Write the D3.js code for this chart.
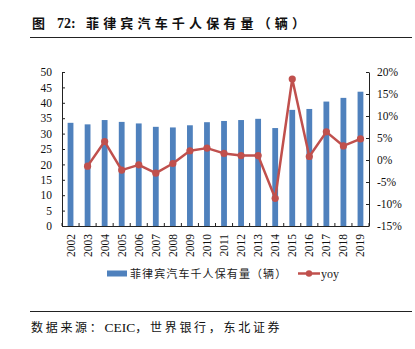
<!DOCTYPE html>
<html>
<head>
<meta charset="utf-8">
<script src="https://cdn.jsdelivr.net/npm/d3@7"></script>
<style>
  html, body { margin: 0; padding: 0; background: #fff; }
  svg { display: block; }
</style>
</head>
<body>
<svg id="chart" width="415" height="349"></svg>
<script>
// Philippines: cars per 1000 people, with year-on-year change
const years = ["2002","2003","2004","2005","2006","2007","2008","2009","2010",
               "2011","2012","2013","2014","2015","2016","2017","2018","2019"];
const carsPer1000 = [33.5, 33.0, 34.4, 33.8, 33.3, 32.2, 32.0, 32.7, 33.7,
                     34.1, 34.4, 34.8, 31.8, 37.7, 38.0, 40.4, 41.6, 43.6];
const yoyPct = [null, -1.4, 4.2, -2.3, -1.1, -3.0, -0.8, 2.1, 2.7,
                1.5, 1.0, 1.0, -8.7, 18.4, 0.8, 6.4, 3.2, 4.8];
const leftTicks = [0, 5, 10, 15, 20, 25, 30, 35, 40, 45, 50];
const rightTicks = [-15, -10, -5, 0, 5, 10, 15, 20];

const titleLabel = "图";
const titleNumber = "72:";
const titleText = "菲律宾汽车千人保有量（辆）";
const sourceParts = [
  { t: "数据来源：", latin: false },
  { t: "CEIC", latin: true },
  { t: "，世界银行，东北证券", latin: false }
];
const barLegend = "菲律宾汽车千人保有量（辆）";
const lineLegend = "yoy";

const cjk = "'Noto Sans CJK SC', sans-serif";
const serif = "'Liberation Serif', 'Times New Roman', serif";
const barColor = "#4f81bd";
const lineColor = "#c0504d";

const svg = d3.select("#chart");

// Title and rule
svg.append("text").attr("x", 32).attr("y", 28)
  .attr("font-family", cjk).attr("font-size", 13).attr("font-weight", "bold")
  .attr("fill", "#111").text(titleLabel);
svg.append("text").attr("x", 57).attr("y", 28)
  .attr("font-family", serif).attr("font-size", 14).attr("font-weight", "bold")
  .attr("fill", "#111").text(titleNumber);
svg.append("text").attr("x", 86).attr("y", 28)
  .attr("font-family", cjk).attr("font-size", 13).attr("font-weight", "bold")
  .attr("textLength", 219).attr("lengthAdjust", "spacing")
  .attr("fill", "#111").text(titleText);
svg.append("line").attr("x1", 30).attr("x2", 412).attr("y1", 37.5).attr("y2", 37.5)
  .attr("stroke", "#222").attr("stroke-width", 1);

// Plot area
const plotL = 62, plotR = 369, plotT = 72, plotB = 226;

const x = d3.scaleBand().domain(years).range([plotL, plotR]).paddingInner(0.66).paddingOuter(0.33);
const yL = d3.scaleLinear().domain([0, 50]).range([plotB, plotT]);
const yR = d3.scaleLinear().domain([-15, 20]).range([plotB, plotT]);

// Bars
svg.append("g").selectAll("rect").data(years).join("rect")
  .attr("x", d => x(d))
  .attr("width", x.bandwidth())
  .attr("y", (d, i) => yL(carsPer1000[i]))
  .attr("height", (d, i) => yL(0) - yL(carsPer1000[i]))
  .attr("fill", barColor);

// Axes
const axisStyle = g => {
  g.selectAll(".domain").attr("stroke", "#222");
  g.selectAll(".tick line").attr("stroke", "#222");
  g.selectAll("text").attr("font-family", serif).attr("font-size", 11.5).attr("fill", "#111");
};

svg.append("g").attr("transform", `translate(${plotL},0)`)
  .call(d3.axisLeft(yL).tickValues(leftTicks).tickSizeInner(-3).tickSizeOuter(0).tickPadding(10))
  .call(axisStyle);

svg.append("g").attr("transform", `translate(${plotR},0)`)
  .call(d3.axisRight(yR).tickValues(rightTicks).tickSizeInner(-3).tickSizeOuter(0).tickPadding(8)
        .tickFormat(d => d + "%"))
  .call(axisStyle);

// Category axis: ticks between categories, labels rotated
const xAxis = svg.append("g").attr("transform", `translate(0,${plotB})`);
xAxis.append("line").attr("x1", plotL).attr("x2", plotR).attr("y1", 0.5).attr("y2", 0.5)
  .attr("stroke", "#222");
const step = x.step();
xAxis.selectAll("line.sep").data(d3.range(years.length + 1)).join("line")
  .attr("class", "sep")
  .attr("x1", i => plotL + i * step).attr("x2", i => plotL + i * step)
  .attr("y1", 0).attr("y2", -3).attr("stroke", "#222");
xAxis.selectAll("text").data(years).join("text")
  .attr("transform", d => `translate(${x(d) + x.bandwidth() / 2 + 4},${8}) rotate(-90)`)
  .attr("text-anchor", "end")
  .attr("font-family", serif).attr("font-size", 11.5).attr("fill", "#111")
  .text(d => d);

// YoY line
const pts = years.map((d, i) => ({ year: d, v: yoyPct[i] })).filter(p => p.v !== null);
const line = d3.line().x(p => x(p.year) + x.bandwidth() / 2).y(p => yR(p.v));
svg.append("path").datum(pts).attr("d", line)
  .attr("fill", "none").attr("stroke", lineColor).attr("stroke-width", 2.5)
  .attr("stroke-linejoin", "round");
svg.append("g").selectAll("circle").data(pts).join("circle")
  .attr("cx", p => x(p.year) + x.bandwidth() / 2)
  .attr("cy", p => yR(p.v))
  .attr("r", 3.6).attr("fill", lineColor);

// Legend
const lg = svg.append("g");
lg.append("rect").attr("x", 107).attr("y", 270.5).attr("width", 20).attr("height", 6).attr("fill", barColor);
lg.append("text").attr("x", 130).attr("y", 277.5)
  .attr("font-family", cjk).attr("font-size", 11).attr("fill", "#222")
  .attr("letter-spacing", 1.1).text(barLegend);
lg.append("line").attr("x1", 298).attr("x2", 320).attr("y1", 273.5).attr("y2", 273.5)
  .attr("stroke", lineColor).attr("stroke-width", 2.5);
lg.append("circle").attr("cx", 309).attr("cy", 273.5).attr("r", 3.2).attr("fill", lineColor);
lg.append("text").attr("x", 321).attr("y", 277.5)
  .attr("font-family", serif).attr("font-size", 12).attr("fill", "#222").text(lineLegend);

// Source footer
svg.append("line").attr("x1", 30).attr("x2", 412).attr("y1", 311.5).attr("y2", 311.5)
  .attr("stroke", "#222").attr("stroke-width", 1);
const src = svg.append("text").attr("x", 31).attr("y", 332).attr("fill", "#111");
src.selectAll("tspan").data(sourceParts).join("tspan")
  .attr("font-family", d => d.latin ? serif : cjk)
  .attr("font-size", d => d.latin ? 13.5 : 12)
  .attr("letter-spacing", d => d.latin ? 0 : 2.7)
  .text(d => d.t);
</script>
</body>
</html>
